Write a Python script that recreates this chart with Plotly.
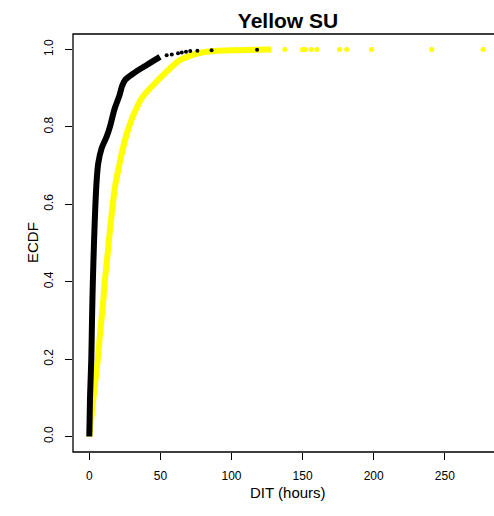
import plotly.graph_objects as go

# ECDF of dwell-in-transit time (hours) for two groups, read as (hours, cumulative fraction)
black_hours = [0, 0.5, 1.4, 1.9, 2.5, 3.3, 4.3, 5.2, 6.3, 8.7, 12.2, 14.5, 16.9, 18.1,
               21.1, 23.0, 25.1, 31.0, 40.4, 49.7]
black_ecdf = [0.0, 0.1, 0.2, 0.3, 0.4, 0.5, 0.6, 0.663, 0.706, 0.745, 0.775, 0.80, 0.835,
              0.85, 0.88, 0.905, 0.921, 0.938, 0.96, 0.981]
black_tail_hours = [54.4, 58.0, 62.4, 65.0, 68.0, 71.0, 76.0, 86.0, 118.0]
black_tail_ecdf = [0.985, 0.987, 0.99, 0.992, 0.994, 0.996, 0.997, 0.998, 0.999]

yellow_hours = [0, 1.5, 2.8, 4.5, 6.0, 7.2, 8.5, 9.8, 11.0, 12.3, 13.6, 15.0, 16.5, 18.3,
                21.0, 24.0, 27.0, 30.5, 37.0, 46.0, 55.6, 64.0, 80.0, 100.0, 128.0]
yellow_ecdf = [0.0, 0.05, 0.095, 0.15, 0.2, 0.25, 0.3, 0.35, 0.405, 0.45, 0.5, 0.55, 0.6,
               0.65, 0.70, 0.75, 0.79, 0.826, 0.875, 0.912, 0.947, 0.973, 0.993, 0.998, 1.0]
yellow_tail_hours = [137.5, 150.0, 152.0, 156.0, 160.0, 176.0, 181.0, 198.5, 240.8, 277.0]
yellow_tail_ecdf = [1.0] * len(yellow_tail_hours)

x_ticks = [0, 50, 100, 150, 200, 250]
y_ticks = [0.0, 0.2, 0.4, 0.6, 0.8, 1.0]

FONT = "Liberation Sans, Arial, Helvetica, sans-serif"
YELLOW = "#FFFF00"

fig = go.Figure()
fig.add_trace(go.Scatter(x=yellow_hours, y=yellow_ecdf, mode="lines",
                         line=dict(color=YELLOW, width=6, shape="spline", smoothing=0.8),
                         hoverinfo="skip"))
fig.add_trace(go.Scatter(x=yellow_tail_hours, y=yellow_tail_ecdf, mode="markers",
                         marker=dict(color=YELLOW, size=5), hoverinfo="skip"))
fig.add_trace(go.Scatter(x=black_hours, y=black_ecdf, mode="lines",
                         line=dict(color="black", width=6, shape="spline", smoothing=0.8),
                         hoverinfo="skip"))
fig.add_trace(go.Scatter(x=black_tail_hours, y=black_tail_ecdf, mode="markers",
                         marker=dict(color="black", size=4), hoverinfo="skip"))

fig.update_layout(
    width=494, height=516,
    margin=dict(l=73, r=0, t=34, b=64),
    paper_bgcolor="white", plot_bgcolor="white",
    showlegend=False,
    font=dict(family=FONT, color="black", size=12),
    title=dict(text="<b>Yellow SU</b>", font=dict(size=21, family=FONT, color="black"),
               xref="container", x=288 / 494, xanchor="center",
               yref="container", y=1 - 21 / 516, yanchor="middle"),
    xaxis=dict(range=[-11.46, 284.6], tickvals=x_ticks, ticks="outside", ticklen=7,
               tickcolor="black", tickwidth=1, showgrid=False, zeroline=False,
               showline=False, tickfont=dict(size=12), ticklabelstandoff=6),
    yaxis=dict(range=[-0.04, 1.04], tickvals=y_ticks, tickformat=".1f", ticks="outside",
               ticklen=7, tickcolor="black", tickwidth=1, showgrid=False, zeroline=False,
               showline=False, tickangle=-90, tickfont=dict(size=12), ticklabelstandoff=7),
    shapes=[dict(type="rect", xref="paper", yref="paper", x0=0, x1=1.1, y0=0, y1=1,
                 line=dict(color="black", width=1.3), fillcolor="rgba(0,0,0,0)", layer="above")],
    annotations=[
        dict(text="DIT (hours)", xref="paper", yref="paper", x=(288 - 73) / 421, y=-(493 - 452) / 418,
             xanchor="center", yanchor="middle", showarrow=False, font=dict(size=15)),
        dict(text="ECDF", xref="paper", yref="paper", x=-(73 - 32) / 421, y=0.5,
             xanchor="center", yanchor="middle", textangle=-90, showarrow=False, font=dict(size=15)),
    ],
)

fig.write_html("out.html")
